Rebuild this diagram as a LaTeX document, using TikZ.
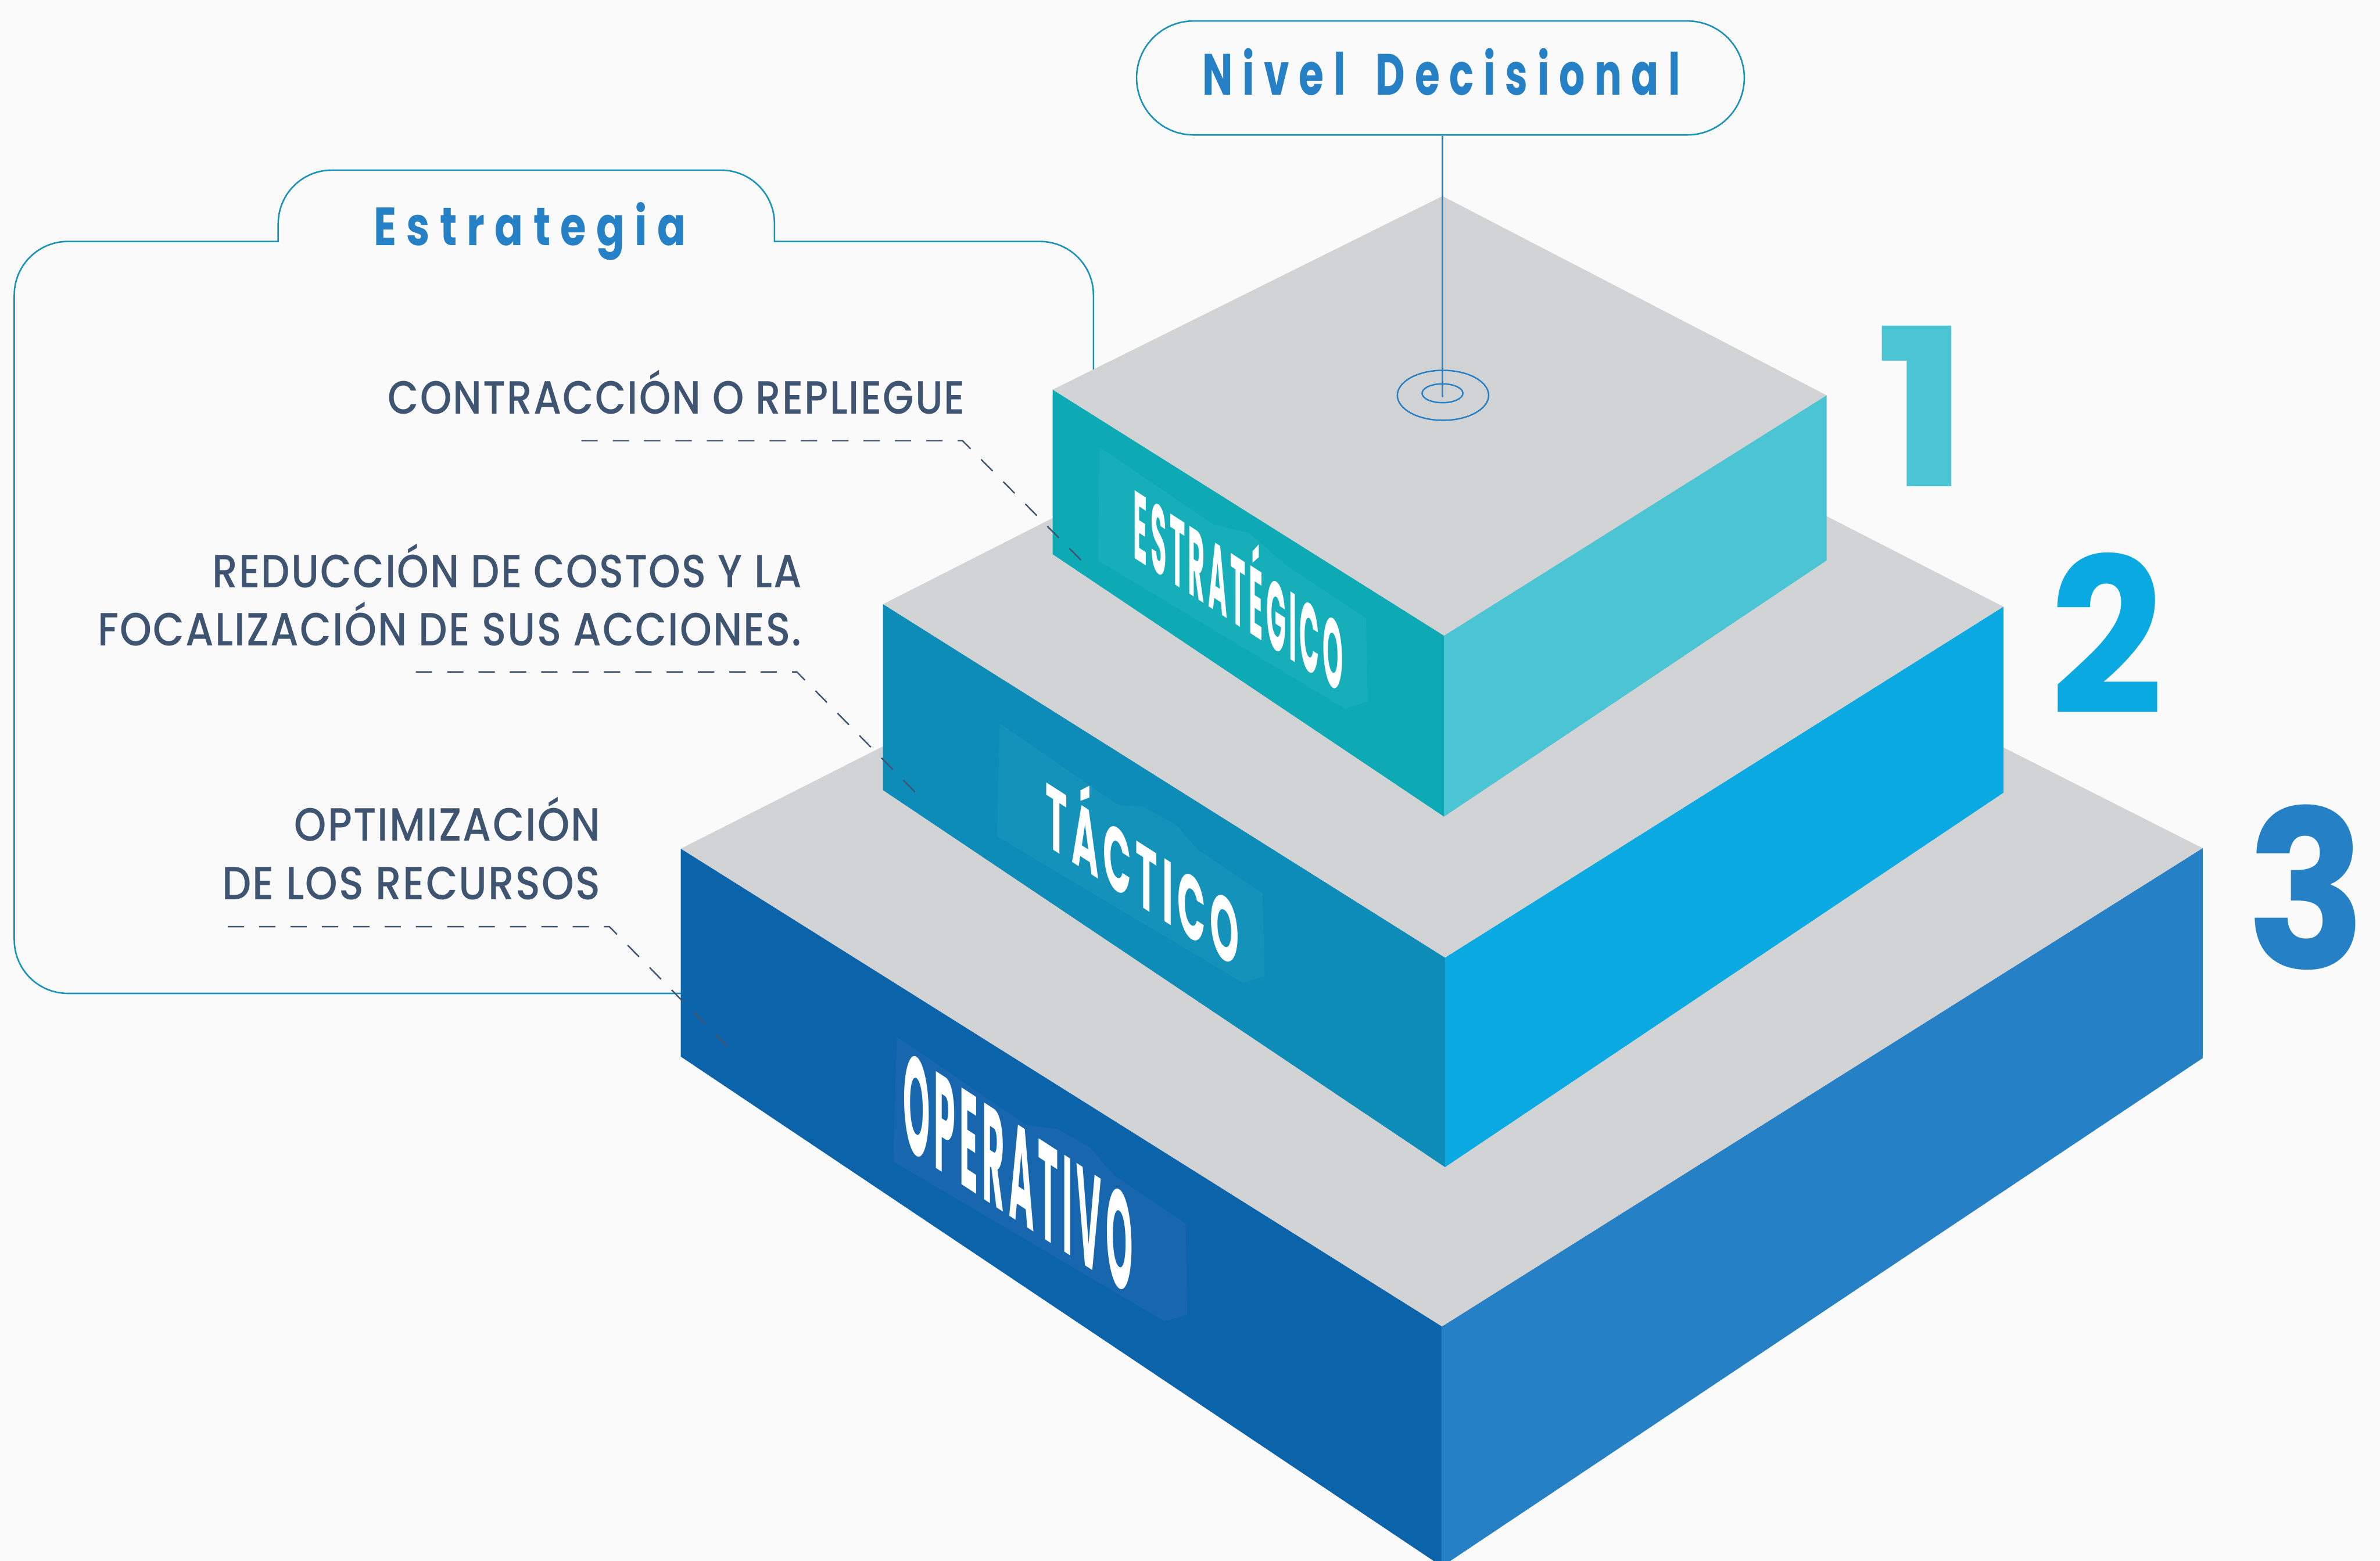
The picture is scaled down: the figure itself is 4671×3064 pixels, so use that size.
\documentclass[tikz,border=0pt]{standalone}
\usepackage{fontspec}
\usepackage{graphicx}
\setmainfont{Poppins}
\newfontfamily\headfont[UprightFont=* Bold,LetterSpace=24]{Poppins}
\newfontfamily\facefont[UprightFont=* Bold,LetterSpace=12]{Poppins}
\newfontfamily\numfont[UprightFont=* Bold]{Poppins}
\newfontfamily\labelfont[UprightFont=* Medium,LetterSpace=3]{Poppins}
\newcommand{\fitw}[2]{\resizebox{#1}{\height}{#2}}
\definecolor{bgc}{HTML}{FAFAFA}
\definecolor{topc}{HTML}{D1D3D4}
\definecolor{faceA}{HTML}{0DAAB5}
\definecolor{sideA}{HTML}{4BC5D4}
\definecolor{panelA}{HTML}{16AEB9}
\definecolor{faceB}{HTML}{0C8CB6}
\definecolor{sideB}{HTML}{0AA9E2}
\definecolor{panelB}{HTML}{1592BA}
\definecolor{faceC}{HTML}{0B63A9}
\definecolor{sideC}{HTML}{2580C5}
\definecolor{panelC}{HTML}{1766AE}
\definecolor{linec}{HTML}{1B93B9}
\definecolor{bluet}{HTML}{2580C5}
\definecolor{greyt}{HTML}{3F5470}
\usetikzlibrary{shapes.geometric}
\tikzset{
  outlinebox/.style={draw=linec,line width=0.03cm},
  callout/.style={draw=greyt,line width=0.028cm,dash pattern=on 0.32cm off 0.295cm},
  labeltext/.style={anchor=base east,inner sep=0pt,text=greyt,font=\labelfont\fontsize{26}{26}\selectfont},
  facetext/.style={anchor=base west,inner sep=0pt,text=white,transform shape},
  headtext/.style={anchor=base west,inner sep=0pt,text=bluet,font=\headfont},
  numtext/.style={anchor=base west,inner sep=0pt,font=\numfont\fontsize{127}{127}\selectfont},
  marker/.style={draw=bluet,line width=0.028cm,ellipse,inner sep=0pt},
}
\begin{document}
\begin{tikzpicture}[x=0.01cm,y=-0.01cm]
\useasboundingbox (0,0) rectangle (4671,3064);
\clip (0,0) rectangle (4671,3064);
\fill[bgc] (0,0) rectangle (4671,3064);

% Estrategia outline
\draw[outlinebox] (546,474) [rounded corners=1.05cm] -- (28,474) -- (28,1950) -- (2146,1950) -- (2146,474) [sharp corners] -- (1520,474) [rounded corners=1.05cm] -- (1520,334) -- (546,334) [sharp corners] -- cycle;

% bottom block
\fill[topc] (1336,1666) -- (2830,910) -- (4323,1665) -- (2830,2604) -- cycle;
\fill[faceC] (1336,1666) -- (2830,2604) -- (2830,3075) -- (1336,2074) -- cycle;
\fill[sideC] (2830,2604) -- (4323,1665) -- (4323,2077) -- (2830,3075) -- cycle;
% middle block
\fill[topc] (1733,1186) -- (2832,628) -- (3932,1191) -- (2836,1880) -- cycle;
\fill[faceB] (1733,1186) -- (2836,1880) -- (2836,2291) -- (1733,1551) -- cycle;
\fill[sideB] (2836,1880) -- (3932,1191) -- (3932,1556) -- (2836,2291) -- cycle;
% top block
\fill[topc] (2066,765) -- (2831,385) -- (3585,776) -- (2834,1248) -- cycle;
\fill[faceA] (2066,765) -- (2834,1248) -- (2834,1603) -- (2066,1088) -- cycle;
\fill[sideA] (2834,1248) -- (3585,776) -- (3585,1100) -- (2834,1603) -- cycle;

% lighter panels behind the face labels
\fill[panelA] (2158,878) -- (2155,1100) -- (2640,1391) -- (2684,1377) -- (2681,1214) -- (2526,1111) -- (2451,1046) -- (2382,1030) -- cycle;
\fill[panelB] (1962,1420) -- (1957,1642) -- (2439,1929) -- (2482,1916) -- (2478,1754) -- (2350,1667) -- (2308,1619) -- (2244,1584) -- (2194,1580) -- cycle;
\fill[panelC] (1760,2035) -- (1753,2280) -- (2286,2594) -- (2330,2581) -- (2327,2402) -- (2184,2305) -- (2139,2252) -- (2075,2216) -- (2015,2209) -- cycle;

% face labels
\begin{scope}[cm={1,-0.65,0,1,(2224,1094)}]
\node[facetext] (estr) at (0,0) {\facefont\fontsize{54}{54}\selectfont\fitw{4.11cm}{ESTRATÉGICO}};
\end{scope}
\begin{scope}[cm={1,-0.643,0,1,(2051,1658)}]
\node[facetext] (tact) at (0,0) {\facefont\fontsize{50}{50}\selectfont\fitw{3.80cm}{TÁCTICO}};
\end{scope}
\begin{scope}[cm={1,-0.653,0,1,(1772,2250)}]
\node[facetext] (oper) at (0,0) {\facefont\fontsize{77}{77}\selectfont\fitw{4.50cm}{OPERATIVO}};
\end{scope}

% Nivel Decisional
\node[draw=linec,line width=0.03cm,minimum width=11.92cm,minimum height=2.235cm,rounded corners=1.117cm,inner sep=0pt] (pill) at (2827,153) {};
\node[headtext] (nivel) at (2359,186) {\fontsize{32.5}{32.5}\selectfont\fitw{9.38cm}{Nivel\hspace{0.3em} Decisional}};
\node[marker,minimum width=1.79cm,minimum height=0.98cm] (ringO) at (2832,776) {};
\node[marker,minimum width=0.8cm,minimum height=0.37cm] (ringI) at (2831,772) {};
\coordinate (pin) at (2831,780);
\draw[draw=bluet,line width=0.028cm] (pill.south -| pin) -- (pin);

% Estrategia heading
\node[headtext] (estrat) at (733,482) {\fontsize{30}{30}\selectfont\fitw{6.12cm}{Estrategia}};

% side texts
\node[labeltext] (t1) at (1895,812) {\fitw{11.32cm}{CONTRACCIÓN O REPLIEGUE}};
\node[labeltext] (t2a) at (1574,1153) {\fitw{11.56cm}{REDUCCIÓN DE COSTOS Y LA}};
\node[labeltext] (t2b) at (1574,1268) {\fitw{13.80cm}{FOCALIZACIÓN DE SUS ACCIONES.}};
\node[labeltext] (t3a) at (1179,1651) {\fitw{6.00cm}{OPTIMIZACIÓN}};
\node[labeltext] (t3b) at (1179,1766) {\fitw{7.42cm}{DE LOS RECURSOS}};

% dashed callouts
\coordinate (a1) at (1141,865); \coordinate (k1) at (1889,865); \coordinate (e1) at (2126,1104);
\coordinate (a2) at (816,1319); \coordinate (k2) at (1564,1319); \coordinate (e2) at (1801,1560);
\coordinate (a3) at (447,1819); \coordinate (k3) at (1196,1819); \coordinate (e3) at (1433,2060);
\draw[callout] (a1) -- (k1) -- (e1);
\draw[callout] (a2) -- (k2) -- (e2);
\draw[callout] (a3) -- (k3) -- (e3);

% numerals
\node[numtext,text=sideA] (n1) at (3680,955) {\resizebox{1.85cm}{3.15cm}{1}};
\node[numtext,text=sideB] (n2) at (4023,1402) {\resizebox{2.22cm}{3.17cm}{2}};
\node[numtext,text=sideC] (n3) at (4408,1902) {\resizebox{2.35cm}{3.22cm}{3}};
\end{tikzpicture}
\end{document}
